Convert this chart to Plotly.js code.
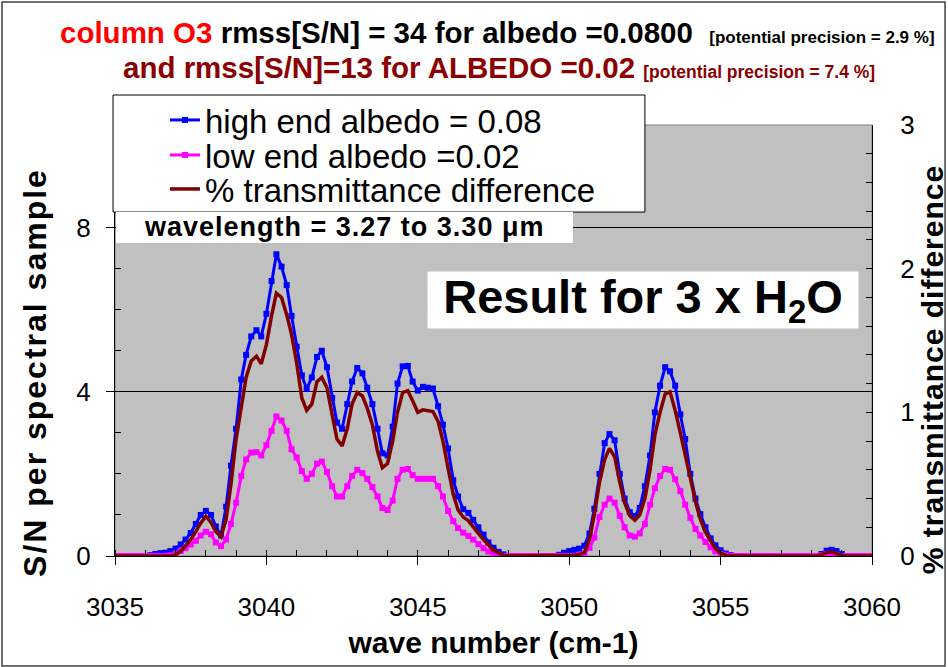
<!DOCTYPE html>
<html>
<head>
<meta charset="utf-8">
<script src="https://cdn.plot.ly/plotly-3.0.1.min.js"></script>
<style>
html,body{margin:0;padding:0;background:#fff;}
#chart{width:948px;height:667px;}
</style>
</head>
<body>
<div id="chart"></div>
<script>
// wave number grid (cm-1)
const waveNumber = [
3035.00,3035.17,3035.33,3035.50,3035.67,3035.83,
3036.00,3036.17,3036.33,3036.50,3036.67,3036.83,
3037.00,3037.17,3037.33,3037.50,3037.67,3037.83,
3038.00,3038.17,3038.33,3038.50,3038.67,3038.83,
3039.00,3039.17,3039.33,3039.50,3039.67,3039.83,
3040.00,3040.17,3040.33,3040.50,3040.67,3040.83,
3041.00,3041.17,3041.33,3041.50,3041.67,3041.83,
3042.00,3042.17,3042.33,3042.50,3042.67,3042.83,
3043.00,3043.17,3043.33,3043.50,3043.67,3043.83,
3044.00,3044.17,3044.33,3044.50,3044.67,3044.83,
3045.00,3045.17,3045.33,3045.50,3045.67,3045.83,
3046.00,3046.17,3046.33,3046.50,3046.67,3046.83,
3047.00,3047.17,3047.33,3047.50,3047.67,3047.83,
3048.00,3048.17,3048.33,3048.50,3048.67,3048.83,
3049.00,3049.17,3049.33,3049.50,3049.67,3049.83,
3050.00,3050.17,3050.33,3050.50,3050.67,3050.83,
3051.00,3051.17,3051.33,3051.50,3051.67,3051.83,
3052.00,3052.17,3052.33,3052.50,3052.67,3052.83,
3053.00,3053.17,3053.33,3053.50,3053.67,3053.83,
3054.00,3054.17,3054.33,3054.50,3054.67,3054.83,
3055.00,3055.17,3055.33,3055.50,3055.67,3055.83,
3056.00,3056.17,3056.33,3056.50,3056.67,3056.83,
3057.00,3057.17,3057.33,3057.50,3057.67,3057.83,
3058.00,3058.17,3058.33,3058.50,3058.67,3058.83,
3059.00,3059.17,3059.33,3059.50,3059.67,3059.83,
3060.00];

// S/N per spectral sample, high end albedo = 0.08
const highAlbedo = [
0,0,0,0,0,0,
0,0.02,0.05,0.07,0.08,0.12,
0.18,0.28,0.4,0.56,0.78,1.0,
1.1,1.0,0.72,0.5,1.2,2.2,
3.1,4.3,4.9,5.35,5.5,5.35,
5.9,6.7,7.35,7.05,6.6,5.85,
5.1,4.4,4.07,4.35,4.85,5.0,
4.6,3.85,3.25,3.1,3.7,4.25,
4.58,4.45,4.1,3.7,3.1,2.5,
2.45,3.15,4.2,4.62,4.63,4.25,
4.03,4.12,4.1,4.08,3.65,3.2,
2.62,1.85,1.45,1.14,1.05,0.88,
0.7,0.52,0.33,0.2,0.1,0.04,
0,0,0,0,0,0,
0,0,0,0,0.03,0.08,
0.12,0.15,0.18,0.25,0.55,1.15,
2.0,2.75,2.97,2.82,2.0,1.4,
1.07,0.97,1.17,1.7,2.45,3.5,
4.15,4.6,4.5,4.15,3.45,2.85,
2.0,1.4,1.02,0.7,0.43,0.26,
0.14,0.06,0.02,0,0,0,
0,0,0,0,0,0,
0,0,0,0,0,0,
0,0,0.05,0.13,0.15,0.12,
0.05,0,0,0,0,0,
0];

// S/N per spectral sample, low end albedo = 0.02
const lowAlbedo = [
0,0,0,0,0,0,
0,0,0,0,0,0.02,
0.06,0.12,0.19,0.28,0.37,0.5,
0.59,0.53,0.33,0.24,0.4,0.78,
1.3,1.95,2.35,2.52,2.53,2.45,
2.7,3.05,3.4,3.3,3.05,2.6,
2.4,2.07,1.88,2.0,2.25,2.3,
2.05,1.7,1.45,1.45,1.7,1.95,
2.1,2.02,1.88,1.68,1.45,1.17,
1.12,1.35,1.88,2.1,2.12,1.97,
1.88,1.88,1.88,1.88,1.7,1.45,
1.1,0.85,0.68,0.57,0.49,0.4,
0.29,0.19,0.11,0.06,0.02,0,
0,0,0,0,0,0,
0,0,0,0,0,0,
0,0,0.02,0.06,0.2,0.45,
0.95,1.25,1.4,1.3,0.98,0.7,
0.5,0.47,0.55,0.78,1.25,1.65,
1.95,2.12,2.1,1.87,1.58,1.25,
0.93,0.66,0.5,0.34,0.21,0.11,
0.05,0.02,0,0,0,0,
0,0,0,0,0,0,
0,0,0,0,0,0,
0,0,0.02,0.05,0.05,0.03,
0,0,0,0,0,0,
0];

// % transmittance difference (right axis)
const transDiff = [
0,0,0,0,0,0,
0,0,0,0,0,0,
0.009,0.034,0.071,0.114,0.171,0.229,
0.277,0.234,0.171,0.134,0.257,0.5,
0.814,1.043,1.243,1.357,1.391,1.337,
1.471,1.671,1.829,1.8,1.68,1.543,
1.343,1.1,1.014,1.057,1.214,1.243,
1.171,0.986,0.814,0.766,0.886,1.057,
1.137,1.114,1.029,0.914,0.729,0.614,
0.643,0.8,1.0,1.137,1.151,1.08,
1.0,1.017,1.014,1.006,0.937,0.8,
0.611,0.429,0.32,0.271,0.246,0.2,
0.157,0.114,0.074,0.04,0.02,0.006,
0,0,0,0,0,0,
0,0,0,0,0,0.003,
0.006,0.006,0.011,0.023,0.114,0.286,
0.514,0.671,0.749,0.691,0.514,0.371,
0.28,0.249,0.286,0.4,0.6,0.843,
1.0,1.129,1.143,1.014,0.857,0.714,
0.543,0.377,0.257,0.166,0.106,0.051,
0.02,0.006,0,0,0,0,
0,0,0,0,0,0,
0,0,0,0,0,0,
0,0,0.01,0.023,0.029,0.017,
0.005,0,0,0,0,0,
0];

const seriesNames = ["high end albedo = 0.08", "low end albedo =0.02", "% transmittance difference"];
const xTickVals = [3035, 3040, 3045, 3050, 3055, 3060];

const FONT = "Liberation Sans, Arial, sans-serif";

const traces = [
  {x: waveNumber, y: highAlbedo, name: seriesNames[0], type: "scatter", mode: "lines+markers", legend: "legend",
   line: {color: "#0000FF", width: 3}, marker: {symbol: "square", size: 6, color: "#0000FF"}},
  {x: waveNumber, y: lowAlbedo, name: seriesNames[1], type: "scatter", mode: "lines+markers", legend: "legend2",
   line: {color: "#FF00FF", width: 3}, marker: {symbol: "square", size: 6, color: "#FF00FF"}},
  {x: waveNumber, y: transDiff, name: seriesNames[2], type: "scatter", mode: "lines", yaxis: "y2", legend: "legend3",
   line: {color: "#800000", width: 3.5}}
];

function legendAt(yPaper) {
  return {x: 0.066, y: yPaper, xanchor: "left", yanchor: "middle",
          bgcolor: "rgba(0,0,0,0)", borderwidth: 0,
          font: {family: FONT, size: 33, color: "#000000"}};
}

const layout = {
  width: 948, height: 667,
  margin: {l: 115, r: 76, t: 125, b: 111},
  paper_bgcolor: "#FFFFFF",
  plot_bgcolor: "#C0C0C0",
  font: {family: FONT, color: "#000000", size: 26},
  showlegend: true,
  legend: legendAt(1.0116),
  legend2: legendAt(0.9304),
  legend3: legendAt(0.8515),
  xaxis: {range: [3035, 3060], tickvals: xTickVals, ticks: "outside", ticklen: 8, tickwidth: 1,
          tickcolor: "#000000", showline: true, linecolor: "#000000", linewidth: 1,
          showgrid: false, zeroline: false, ticklabelstandoff: 20,
          tickfont: {family: FONT, size: 26},
          minor: {dtick: 1, ticks: "inside", ticklen: 6, tickcolor: "#000000", showgrid: false},
          title: {text: "<b>wave number (cm-1)</b>", font: {family: FONT, size: 30}, standoff: 10}},
  yaxis: {range: [0, 10.5], dtick: 4, tick0: 0, ticks: "outside", ticklen: 8, tickcolor: "#000000",
          showline: true, linecolor: "#000000", linewidth: 1,
          showgrid: true, gridcolor: "#000000", gridwidth: 1, zeroline: false,
          tickfont: {family: FONT, size: 26}, ticklabelstandoff: 10,
          minor: {dtick: 1, ticks: "inside", ticklen: 6, tickcolor: "#000000", showgrid: false}},
  yaxis2: {range: [0, 3], dtick: 1, tick0: 0, overlaying: "y", side: "right", ticks: "inside",
           ticklen: 6, tickcolor: "#000000", showline: true, linecolor: "#000000", linewidth: 1,
           showgrid: false, zeroline: false, tickfont: {family: FONT, size: 26}, ticklabelstandoff: 22,
           minor: {dtick: 0.2, ticks: "inside", ticklen: 6, tickcolor: "#000000", showgrid: false}},
  shapes: [
    {type: "rect", xref: "paper", yref: "paper", x0: -0.1493, x1: 1.0965, y0: -0.2552, y1: 1.2854,
     line: {color: "#404040", width: 1.5}, fillcolor: "rgba(0,0,0,0)", layer: "above"},
    {type: "rect", xref: "paper", yref: "paper", x0: 0, x1: 1, y0: 0, y1: 1,
     line: {color: "#808080", width: 1}, fillcolor: "rgba(0,0,0,0)", layer: "below"},
    {type: "rect", xref: "paper", yref: "paper", x0: -0.0026, x1: 0.700, y0: 0.798, y1: 1.0696,
     line: {color: "#000000", width: 1}, fillcolor: "#FFFFFF", layer: "above"},
    {type: "rect", xref: "paper", yref: "paper", x0: 0.0013, x1: 0.605, y0: 0.7262, y1: 0.798,
     line: {width: 0}, fillcolor: "#FFFFFF", layer: "above"}
  ],
  annotations: [
    {xref: "paper", yref: "paper", x: 0.505, y: 1.2135, xanchor: "center", yanchor: "middle", showarrow: false,
     text: "<b><span style='color:#FF0000'>column O3</span> rmss[S/N] = 34 for albedo =0.0800  <span style='font-size:17px'>[potential precision = 2.9 %]</span></b>",
     font: {family: FONT, size: 29.5, color: "#000000"}},
    {xref: "paper", yref: "paper", x: 0.507, y: 1.1323, xanchor: "center", yanchor: "middle", showarrow: false,
     text: "<b>and rmss[S/N]=13 for ALBEDO =0.02 <span style='font-size:17.5px'>[potential precision = 7.4 %]</span></b>",
     font: {family: FONT, size: 29.5, color: "#8B0000"}},
    {xref: "paper", yref: "paper", x: 0.303, y: 0.763, xanchor: "center", yanchor: "middle", showarrow: false,
     text: "<b><span style='letter-spacing:1px'>wavelength = 3.27 to 3.30 μm</span></b>",
     font: {family: FONT, size: 27, color: "#000000"}},
    {xref: "paper", yref: "paper", x: 0.697, y: 0.594, xanchor: "center", yanchor: "middle", showarrow: false,
     text: "<b>Result for 3 x H<sub>2</sub>O</b>", bgcolor: "#FFFFFF", width: 428, height: 54,
     font: {family: FONT, size: 47, color: "#000000"}},
    {xref: "paper", yref: "paper", x: -0.1057, y: 0.427, xanchor: "center", yanchor: "middle", showarrow: false,
     textangle: -90, text: "<b><span style='letter-spacing:2px'>S/N per spectral sample</span></b>",
     font: {family: FONT, size: 32, color: "#000000"}},
    {xref: "paper", yref: "paper", x: 1.081, y: 0.4316, xanchor: "center", yanchor: "middle", showarrow: false,
     textangle: -90, text: "<b><span style='letter-spacing:1px'>% transmittance difference</span></b>",
     font: {family: FONT, size: 30, color: "#000000"}}
  ]
};

Plotly.newPlot("chart", traces, layout, {displayModeBar: false, staticPlot: true});
</script>
</body>
</html>
